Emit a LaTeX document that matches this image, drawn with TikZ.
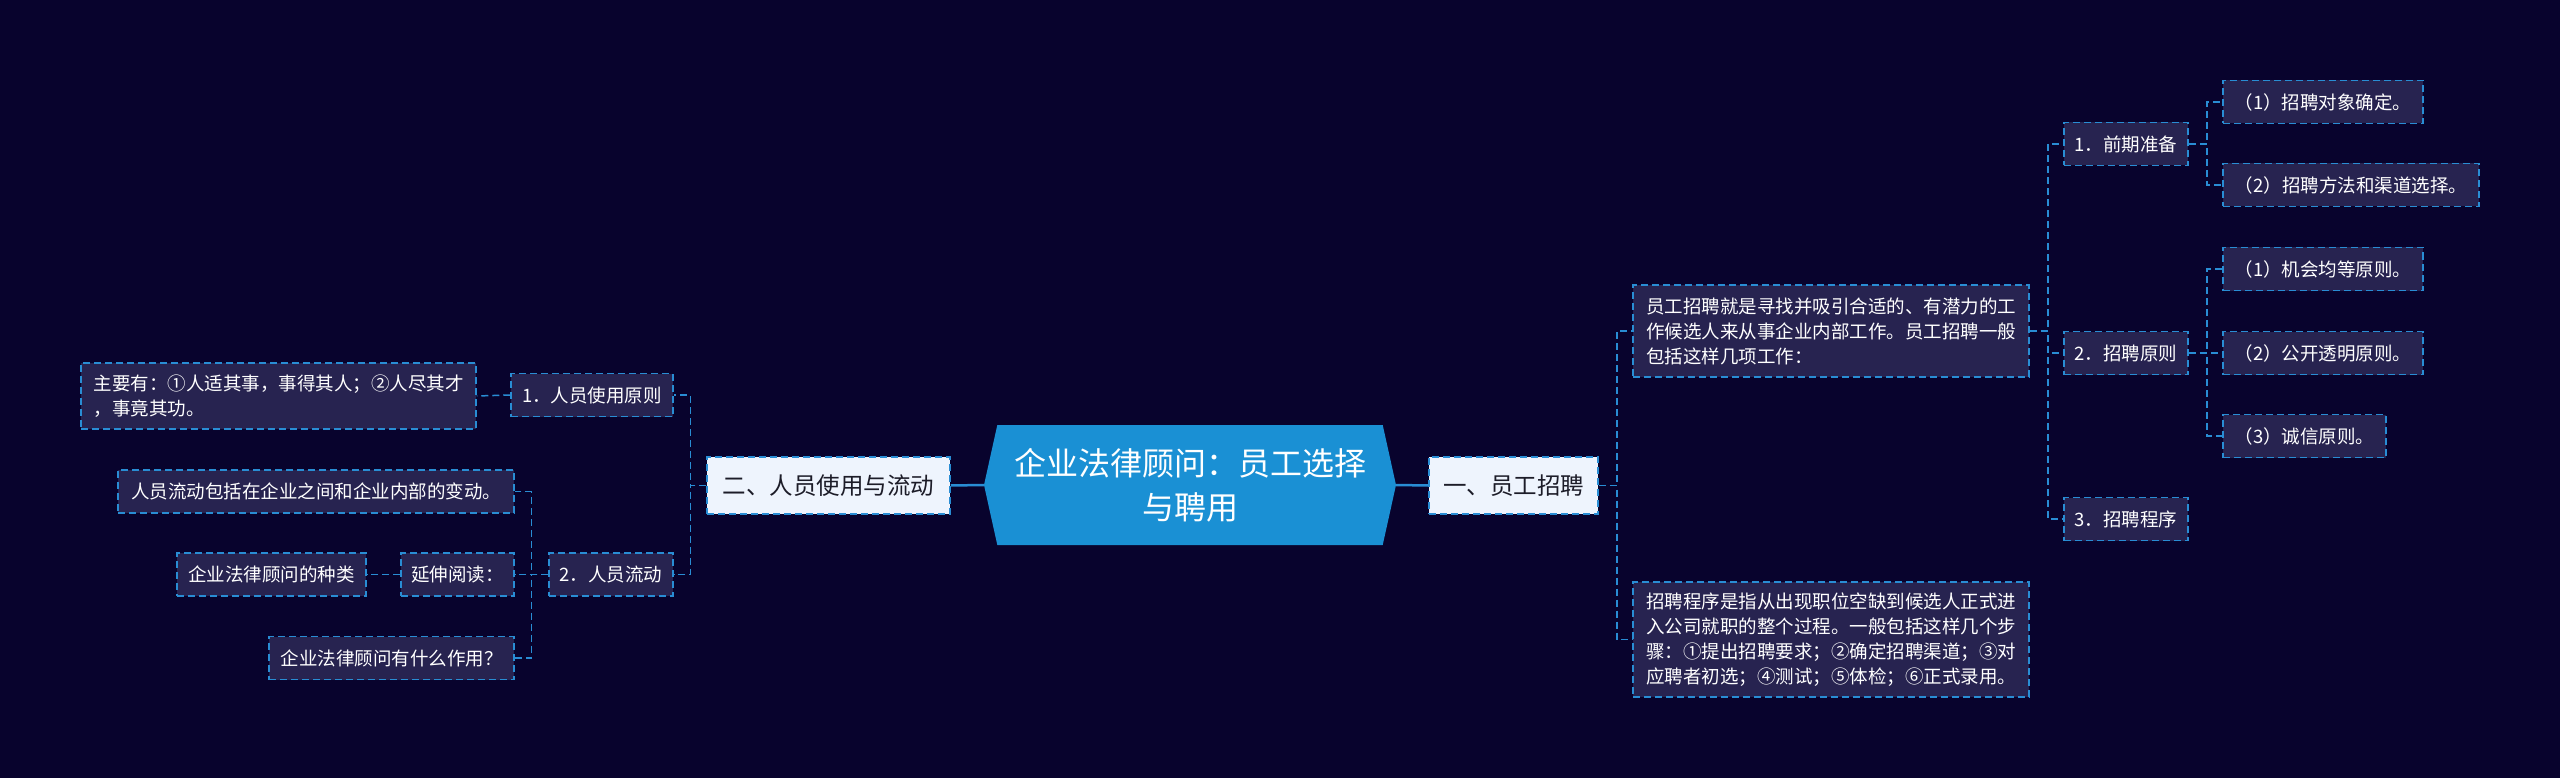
\documentclass[tikz,border=0pt]{standalone}
\usepackage{fontspec}
\setmainfont{Noto Sans CJK SC}
\usetikzlibrary{shapes.symbols}
\definecolor{bgnavy}{RGB}{8, 3, 45}
\definecolor{boxfill}{RGB}{39, 35, 80}
\definecolor{linkblue}{RGB}{41, 141, 212}
\definecolor{rootblue}{RGB}{26, 144, 212}
\definecolor{lightbox}{RGB}{238, 244, 253}
\definecolor{darktext}{RGB}{28, 28, 40}

\begin{document}
\begin{tikzpicture}[x=1pt, y=-1pt,
            every node/.style={rectangle, inner sep=0pt, align=center},
            leaf/.style={draw=linkblue, fill=boxfill, text=white, line width=1.5pt, dash pattern=on 7pt off 4pt, minimum height=43pt, font=\fontsize{18.5pt}{25pt}\selectfont},
            note/.style={leaf, align=left},
            branch/.style={draw=linkblue, fill=lightbox, text=darktext, line width=1.5pt, dash pattern=on 7pt off 4pt, minimum height=57pt, font=\fontsize{23.5pt}{28pt}\selectfont},
            link/.style={draw=linkblue, line width=1.5pt, dash pattern=on 7pt off 4pt},
            trunk/.style={draw=linkblue, line width=2.5pt}]

            % Fondo
            \fill[bgnavy] (0,0) rectangle (2560,778);

            % Nodo principal
            \node[signal, signal to=west and east, signal pointer angle=155, fill=rootblue, text=white, minimum width=412pt, minimum height=120pt, font=\fontsize{32pt}{44pt}\selectfont] (root) at (1190,485) {企业法律顾问：员工选择\\与聘用};

            % Ramas principales
            \node[branch, minimum width=243pt] (staff) at (828.5,485.5) {二、人员使用与流动};
            \node[branch, minimum width=169pt] (recruit) at (1513.5,485.5) {一、员工招聘};

            % Lado izquierdo
            \node[leaf, minimum width=162pt] (useprin) at (592,395) {1．人员使用原则};
            \node[note, minimum width=395pt, minimum height=66pt] (usenote) at (278.5,396) {主要有：①人适其事，事得其人；②人尽其才\\，事竟其功。};
            \node[leaf, minimum width=124pt] (flow) at (611,574.5) {2．人员流动};
            \node[leaf, minimum width=396pt] (flownote) at (316,491.5) {人员流动包括在企业之间和企业内部的变动。};
            \node[leaf, minimum width=113pt] (extra) at (457.5,574.5) {延伸阅读：};
            \node[leaf, minimum width=189pt] (kinds) at (271.5,574.5) {企业法律顾问的种类};
            \node[leaf, minimum width=245pt] (role) at (391.5,658) {企业法律顾问有什么作用？};

            % Lado derecho
            \node[note, minimum width=396pt, minimum height=92pt] (intro) at (1831,331) {员工招聘就是寻找并吸引合适的、有潜力的工\\作候选人来从事企业内部工作。员工招聘一般\\包括这样几项工作：};
            \node[note, minimum width=396pt, minimum height=115pt] (procnote) at (1831,639.5) {招聘程序是指从出现职位空缺到候选人正式进\\入公司就职的整个过程。一般包括这样几个步\\骤：①提出招聘要求；②确定招聘渠道；③对\\应聘者初选；④测试；⑤体检；⑥正式录用。};
            \node[leaf, minimum width=124pt] (prep) at (2126,144) {1．前期准备};
            \node[leaf, minimum width=124pt] (principle) at (2126,353) {2．招聘原则};
            \node[leaf, minimum width=124pt] (proc) at (2126,519) {3．招聘程序};
            \node[leaf, minimum width=200pt] (target) at (2323,102) {（1）招聘对象确定。};
            \node[leaf, minimum width=256pt] (method) at (2351,185) {（2）招聘方法和渠道选择。};
            \node[leaf, minimum width=200pt] (equal) at (2323,269) {（1）机会均等原则。};
            \node[leaf, minimum width=200pt] (open) at (2323,353) {（2）公开透明原则。};
            \node[leaf, minimum width=163pt] (honest) at (2304.5,436) {（3）诚信原则。};

            % Conectores
            \draw[trunk] (root.west) -- (staff.east);
            \draw[trunk] (root.east) -- (recruit.west);

            \draw[link] (staff.west) -- ++(-16,0) |- (useprin.east);
            \draw[link] (staff.west) -- ++(-16,0) |- (flow.east);
            \draw[link] (useprin.west) -- (usenote.east);
            \draw[link] (flow.west) -- ++(-17,0) |- (flownote.east);
            \draw[link] (flow.west) -- ++(-17,0) |- (extra.east);
            \draw[link] (flow.west) -- ++(-17,0) |- (role.east);
            \draw[link] (extra.west) -- (kinds.east);

            \draw[link] (recruit.east) -- ++(18,0) |- (intro.west);
            \draw[link] (recruit.east) -- ++(18,0) |- (procnote.west);
            \draw[link] (intro.east) -- ++(18,0) |- (prep.west);
            \draw[link] (intro.east) -- ++(18,0) |- (principle.west);
            \draw[link] (intro.east) -- ++(18,0) |- (proc.west);
            \draw[link] (prep.east) -- ++(18,0) |- (target.west);
            \draw[link] (prep.east) -- ++(18,0) |- (method.west);
            \draw[link] (principle.east) -- ++(18,0) |- (equal.west);
            \draw[link] (principle.east) -- ++(18,0) |- (open.west);
            \draw[link] (principle.east) -- ++(18,0) |- (honest.west);

        \end{tikzpicture}
\end{document}
